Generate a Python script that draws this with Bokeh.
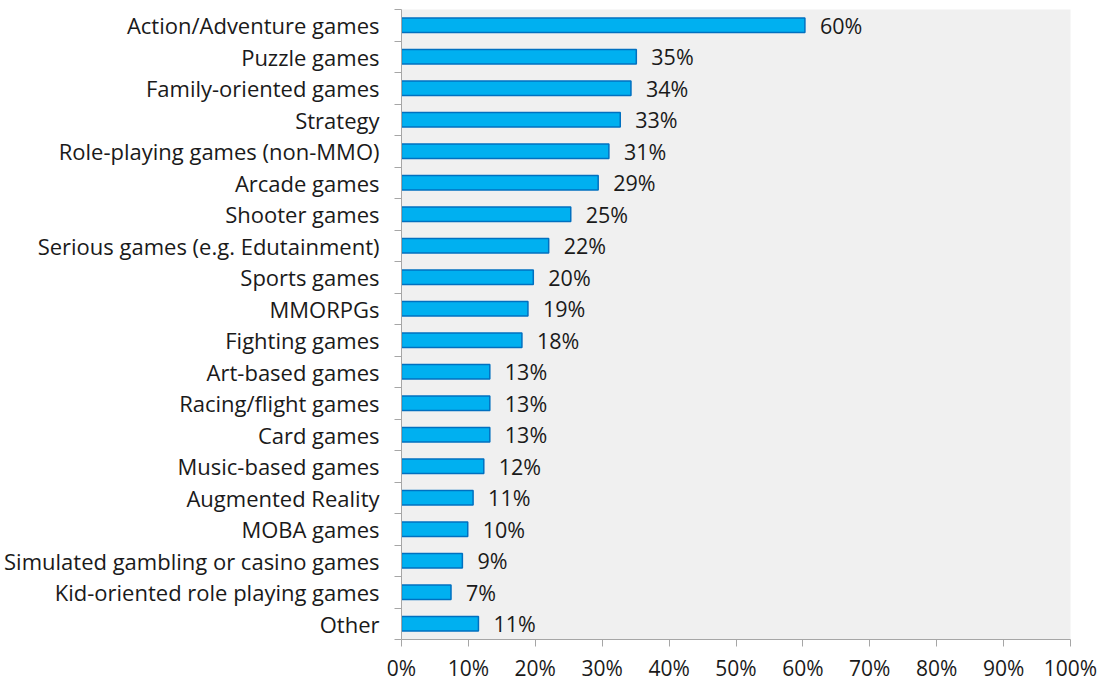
from bokeh.plotting import figure
from bokeh.models import Range1d, FixedTicker, ColumnDataSource
from bokeh.embed import file_html
from bokeh.resources import INLINE
from bokeh.core.properties import value

categories = [
    "Action/Adventure games", "Puzzle games", "Family-oriented games", "Strategy",
    "Role-playing games (non-MMO)", "Arcade games", "Shooter games",
    "Serious games (e.g. Edutainment)", "Sports games", "MMORPGs", "Fighting games",
    "Art-based games", "Racing/flight games", "Card games", "Music-based games",
    "Augmented Reality", "MOBA games", "Simulated gambling or casino games",
    "Kid-oriented role playing games", "Other",
]
values = [60.3, 35.1, 34.3, 32.7, 31.0, 29.4, 25.3, 22.0, 19.7, 18.9, 18.0,
          13.2, 13.2, 13.2, 12.3, 10.7, 9.9, 9.1, 7.4, 11.5]
value_labels = ["60%", "35%", "34%", "33%", "31%", "29%", "25%", "22%", "20%", "19%",
                "18%", "13%", "13%", "13%", "12%", "11%", "10%", "9%", "7%", "11%"]
x_ticks = [0, 10, 20, 30, 40, 50, 60, 70, 80, 90, 100]

FONT = "Open Sans"
n = len(categories)
ys = [n - 0.5 - i for i in range(n)]

src = ColumnDataSource(dict(y=ys, v=values, lab=value_labels))

p = figure(
    frame_width=669, frame_height=630,
    min_border_left=401, min_border_right=30, min_border_top=9, min_border_bottom=36,
    x_range=Range1d(0, 100), y_range=Range1d(0, n),
    output_backend="svg", toolbar_location=None,
)
p.background_fill_color = "#f0f0f0"
p.border_fill_color = "white"
p.outline_line_color = None
p.xgrid.visible = False
p.ygrid.visible = False

p.hbar(y="y", right="v", left=0, height=0.46, source=src,
       fill_color="#00b0f0", line_color="#0070c0", line_width=1.5)
p.text(x="v", y="y", text="lab", source=src, x_offset=15,
       text_baseline="middle", text_align="left",
       text_font=value(FONT), text_font_size="21.5px", text_color="#1a1a1a")

# x axis
xa = p.xaxis[0]
xa.ticker = FixedTicker(ticks=x_ticks, minor_ticks=[])
xa.major_label_overrides = {t: f"{t}%" for t in x_ticks}
xa.axis_line_color = "#a6a6a6"
xa.major_tick_line_color = "#a6a6a6"
xa.major_tick_out = 7
xa.major_tick_in = 0
xa.major_label_standoff = 7
xa.major_label_text_font = FONT
xa.major_label_text_font_size = "21px"
xa.major_label_text_color = "#1a1a1a"

# y axis
ya = p.yaxis[0]
ya.ticker = FixedTicker(ticks=ys, minor_ticks=list(range(n + 1)))
ya.major_label_overrides = {y: c for y, c in zip(ys, categories)}
ya.axis_line_color = "#a6a6a6"
ya.major_tick_line_color = None
ya.major_tick_out = 0
ya.major_tick_in = 0
ya.minor_tick_line_color = "#a6a6a6"
ya.minor_tick_out = 7
ya.minor_tick_in = 0
ya.major_label_standoff = 15
ya.major_label_text_font = FONT
ya.major_label_text_font_size = "22px"
ya.major_label_text_color = "#1a1a1a"

open("out.html", "w").write(file_html(p, INLINE))
